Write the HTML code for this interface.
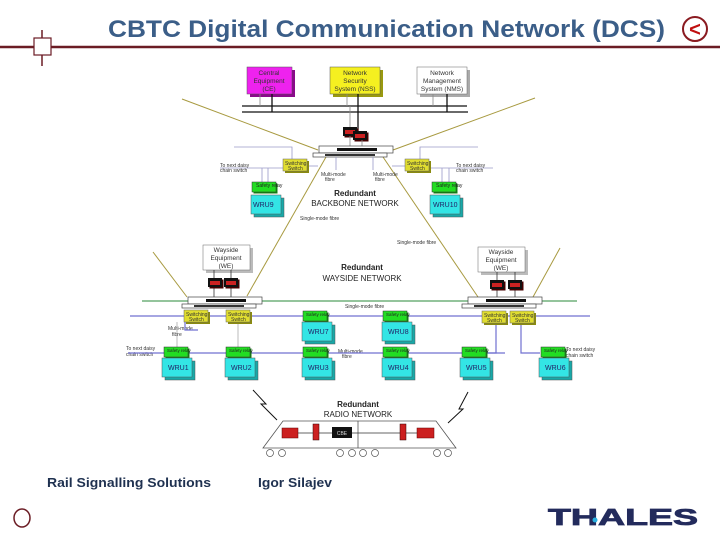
<!DOCTYPE html>
<html><head><meta charset="utf-8"><style>
html,body{margin:0;padding:0;background:#fff;}
svg{display:block;font-family:"Liberation Sans",Arial,sans-serif;}
</style></head><body>
<svg width="720" height="540" viewBox="0 0 720 540" xmlns="http://www.w3.org/2000/svg">
<defs>
<g id="wru"><rect x="3" y="3" width="30" height="19" fill="#18a8a8" stroke="#555" stroke-width="0.5"/><rect x="0" y="0" width="30" height="19" fill="#33e5e5" stroke="#555" stroke-width="0.5"/></g>
<g id="rel"><rect x="1.5" y="1.5" width="24" height="10" fill="#118811"/><rect x="0" y="0" width="24" height="10" fill="#22dd22" stroke="#333" stroke-width="0.5"/></g>
<g id="sw"><rect x="2" y="2" width="24" height="12" fill="#8a8a10"/><rect x="0" y="0" width="24" height="12" fill="#e0dd30" stroke="#666" stroke-width="0.5"/></g>
<g id="red"><rect x="1.5" y="1.5" width="14" height="9" fill="#400"/><rect x="0" y="0" width="14" height="9" fill="#111"/><rect x="2" y="3" width="10" height="4" fill="#cc2222"/></g>
<g id="core"><rect x="6" y="0" width="74" height="7" fill="#fff" stroke="#444" stroke-width="0.7"/><rect x="24" y="2" width="40" height="3" fill="#111"/><rect x="0" y="7" width="74" height="4" fill="#fff" stroke="#444" stroke-width="0.7"/><rect x="12" y="8" width="50" height="2" fill="#333"/></g>
</defs>

<!-- header -->
<text x="108" y="37" font-size="24" font-weight="bold" fill="#3b5e88" textLength="557" lengthAdjust="spacingAndGlyphs">CBTC Digital Communication Network  (DCS)</text>
<line x1="0" y1="47" x2="720" y2="47" stroke="#6b1c24" stroke-width="2.5"/>
<line x1="42" y1="30" x2="42" y2="66" stroke="#6b1c24" stroke-width="1.5"/>
<rect x="34" y="38" width="17" height="17" fill="#fff" stroke="#6b1c24" stroke-width="1.2"/>
<circle cx="695" cy="29" r="12" fill="#fff" stroke="#8a1a20" stroke-width="2"/>
<text x="695" y="36" text-anchor="middle" font-size="20" font-weight="bold" fill="#c01010">&lt;</text>

<!-- diagonals -->
<g stroke="#a89a40" stroke-width="1" fill="none">
<line x1="182" y1="99" x2="318" y2="150"/>
<line x1="535" y1="98" x2="393" y2="150"/>
<line x1="326" y1="157" x2="247" y2="296"/>
<line x1="383" y1="157" x2="478" y2="297"/>
<line x1="153" y1="252" x2="187" y2="297"/>
<line x1="560" y1="248" x2="533" y2="297"/>
</g>

<!-- top boxes -->
<rect x="250" y="70" width="45" height="27" fill="#8a0a8a"/>
<rect x="247" y="67" width="45" height="27" fill="#ee22ee" stroke="#555" stroke-width="0.5"/>
<text x="269" y="75" text-anchor="middle" font-size="6.5" fill="#333">Central</text>
<text x="269" y="83" text-anchor="middle" font-size="6.5" fill="#333">Equipment</text>
<text x="269" y="91" text-anchor="middle" font-size="6.5" fill="#333">(CE)</text>
<rect x="333" y="70" width="50" height="27" fill="#999910"/>
<rect x="330" y="67" width="50" height="27" fill="#f5f020" stroke="#555" stroke-width="0.5"/>
<text x="355" y="75" text-anchor="middle" font-size="6.5" fill="#333">Network</text>
<text x="355" y="83" text-anchor="middle" font-size="6.5" fill="#333">Security</text>
<text x="355" y="91" text-anchor="middle" font-size="6.5" fill="#333">System (NSS)</text>
<rect x="420" y="70" width="50" height="27" fill="#aaa"/>
<rect x="417" y="67" width="50" height="27" fill="#fff" stroke="#666" stroke-width="0.5"/>
<text x="442" y="75" text-anchor="middle" font-size="6.5" fill="#333">Network</text>
<text x="442" y="83" text-anchor="middle" font-size="6.5" fill="#333">Management</text>
<text x="442" y="91" text-anchor="middle" font-size="6.5" fill="#333">System (NMS)</text>

<line x1="242" y1="106" x2="467" y2="106" stroke="#111" stroke-width="1.3"/>
<line x1="242" y1="112" x2="468" y2="112" stroke="#111" stroke-width="1.3"/>
<g stroke="#888" stroke-width="0.8"><line x1="260" y1="94" x2="260" y2="106"/><line x1="347" y1="94" x2="347" y2="106"/><line x1="433" y1="94" x2="433" y2="106"/><line x1="350" y1="106" x2="350" y2="128"/></g>
<g stroke="#111" stroke-width="1.3"><line x1="272" y1="94" x2="272" y2="112"/><line x1="358" y1="94" x2="358" y2="132"/><line x1="447" y1="94" x2="447" y2="112"/></g>
<use href="#red" x="343" y="127"/><use href="#red" x="353" y="131"/>
<line x1="350" y1="136" x2="350" y2="146" stroke="#888" stroke-width="0.8"/>
<line x1="362" y1="140" x2="362" y2="146" stroke="#888" stroke-width="0.8"/>
<use href="#core" x="313" y="146"/>

<!-- backbone -->
<g stroke="#9a9ac8" stroke-width="0.8" fill="none">
<polyline points="234,147 292,147 292,159"/>
<line x1="220" y1="168" x2="283" y2="168"/>
<line x1="307" y1="166" x2="318" y2="166"/>
<line x1="262" y1="168" x2="262" y2="182"/><line x1="268" y1="168" x2="268" y2="182"/>
<polyline points="478,147 420,147 420,159"/>
<line x1="430" y1="168" x2="493" y2="168"/>
<line x1="392" y1="166" x2="405" y2="166"/>
<line x1="442" y1="168" x2="442" y2="182"/><line x1="449" y1="168" x2="449" y2="182"/>
<line x1="336" y1="157" x2="336" y2="170"/><line x1="373" y1="157" x2="373" y2="170"/>
</g>
<use href="#sw" x="283" y="159"/><use href="#sw" x="405" y="159"/>
<use href="#rel" x="252" y="182"/><use href="#wru" x="251" y="195"/>
<use href="#rel" x="432" y="182"/><use href="#wru" x="430" y="195"/>
<g font-size="5" fill="#333">
<text x="285" y="165">Switching</text><text x="288" y="170">Switch</text>
<text x="407" y="165">Switching</text><text x="410" y="170">Switch</text>
<text x="220" y="167">To next daisy</text><text x="220" y="172">chain switch</text>
<text x="456" y="167">To next daisy</text><text x="456" y="172">chain switch</text>
<text x="321" y="176">Multi-mode</text><text x="325" y="181">fibre</text>
<text x="373" y="176">Multi-mode</text><text x="375" y="181">fibre</text>
<text x="300" y="220">Single-mode fibre</text>
<text x="397" y="244">Single-mode fibre</text>
<text x="345" y="308">Single-mode fibre</text>
<text x="168" y="330">Multi-mode</text><text x="172" y="336">fibre</text>
<text x="338" y="353">Multi-mode</text><text x="342" y="358">fibre</text>
<text x="126" y="350">To next daisy</text><text x="126" y="356">chain switch</text>
<text x="566" y="351">To next daisy</text><text x="566" y="357">chain switch</text>
</g>
<g font-size="5" fill="#222">
<text x="256" y="187">Safety relay</text><text x="436" y="187">Safety relay</text>
</g>
<text x="253" y="207" font-size="7" fill="#226">WRU9</text>
<text x="433" y="207" font-size="7" fill="#226">WRU10</text>
<text x="355" y="196" text-anchor="middle" font-size="8" font-weight="bold" fill="#222">Redundant</text>
<text x="355" y="206" text-anchor="middle" font-size="8" fill="#222">BACKBONE NETWORK</text>
<text x="362" y="270" text-anchor="middle" font-size="8" font-weight="bold" fill="#222">Redundant</text>
<text x="362" y="281" text-anchor="middle" font-size="8" fill="#222">WAYSIDE NETWORK</text>

<!-- wayside equipment -->
<rect x="206" y="248" width="47" height="25" fill="#bbb"/>
<rect x="203" y="245" width="47" height="25" fill="#fff" stroke="#666" stroke-width="0.5"/>
<text x="226" y="252" text-anchor="middle" font-size="6.5" fill="#333">Wayside</text>
<text x="226" y="260" text-anchor="middle" font-size="6.5" fill="#333">Equipment</text>
<text x="226" y="268" text-anchor="middle" font-size="6.5" fill="#333">(WE)</text>
<rect x="481" y="250" width="47" height="25" fill="#bbb"/>
<rect x="478" y="247" width="47" height="25" fill="#fff" stroke="#666" stroke-width="0.5"/>
<text x="501" y="254" text-anchor="middle" font-size="6.5" fill="#333">Wayside</text>
<text x="501" y="262" text-anchor="middle" font-size="6.5" fill="#333">Equipment</text>
<text x="501" y="270" text-anchor="middle" font-size="6.5" fill="#333">(WE)</text>
<g stroke="#333" stroke-width="0.8"><line x1="214" y1="270" x2="214" y2="297"/><line x1="231" y1="270" x2="231" y2="297"/><line x1="497" y1="272" x2="497" y2="297"/><line x1="515" y1="272" x2="515" y2="297"/></g>
<use href="#red" x="208" y="278"/><use href="#red" x="224" y="278"/>
<use href="#red" x="490" y="280"/><use href="#red" x="508" y="280"/>

<line x1="142" y1="301" x2="577" y2="301" stroke="#2a8a3a" stroke-width="1"/>
<use href="#core" x="182" y="297"/><use href="#core" x="462" y="297"/>

<!-- blue lines -->
<g stroke="#7070d0" stroke-width="1.2" fill="none">
<line x1="130" y1="316" x2="590" y2="316"/>
<line x1="128" y1="353" x2="164" y2="353"/>
<line x1="188" y1="353" x2="505" y2="353"/>
<polyline points="185,322 185,330 198,330"/>
<polyline points="496,323 496,353 485,353"/>
<polyline points="521,323 521,353 540,353"/>
</g>
<g stroke="#aaa" stroke-width="0.8"><line x1="177" y1="322" x2="177" y2="347"/><line x1="238" y1="323" x2="238" y2="347"/></g>
<use href="#sw" x="184" y="310"/><use href="#sw" x="226" y="310"/>
<use href="#sw" x="482" y="311"/><use href="#sw" x="510" y="311"/>
<g font-size="5" fill="#333">
<text x="186" y="316">Switching</text><text x="189" y="321">Switch</text>
<text x="228" y="316">Switching</text><text x="231" y="321">Switch</text>
<text x="484" y="317">Switching</text><text x="487" y="322">Switch</text>
<text x="512" y="317">Switching</text><text x="515" y="322">Switch</text>
</g>
<use href="#rel" x="303" y="311"/><use href="#wru" x="302" y="322"/>
<use href="#rel" x="383" y="311"/><use href="#wru" x="382" y="322"/>
<use href="#rel" x="164" y="347"/><use href="#wru" x="162" y="358"/>
<use href="#rel" x="226" y="347"/><use href="#wru" x="225" y="358"/>
<use href="#rel" x="303" y="347"/><use href="#wru" x="302" y="358"/>
<use href="#rel" x="383" y="347"/><use href="#wru" x="382" y="358"/>
<use href="#rel" x="462" y="347"/><use href="#wru" x="460" y="358"/>
<use href="#rel" x="541" y="347"/><use href="#wru" x="539" y="358"/>
<g font-size="4.5" fill="#222">
<text x="306" y="316">Safety relay</text><text x="386" y="316">Safety relay</text>
<text x="167" y="352">Safety relay</text><text x="229" y="352">Safety relay</text><text x="306" y="352">Safety relay</text><text x="386" y="352">Safety relay</text><text x="465" y="352">Safety relay</text><text x="544" y="352">Safety relay</text>
</g>
<g font-size="7" fill="#226">
<text x="308" y="334">WRU7</text><text x="388" y="334">WRU8</text>
<text x="168" y="370">WRU1</text><text x="231" y="370">WRU2</text><text x="308" y="370">WRU3</text><text x="388" y="370">WRU4</text><text x="466" y="370">WRU5</text><text x="545" y="370">WRU6</text>
</g>

<!-- radio -->
<g stroke="#111" stroke-width="1" fill="none">
<polyline points="253,390 266,404 261,404 277,420"/>
<polyline points="468,392 459,409 463,409 448,423"/>
</g>
<text x="358" y="407" text-anchor="middle" font-size="8" font-weight="bold" fill="#222">Redundant</text>
<text x="358" y="417" text-anchor="middle" font-size="8" fill="#222">RADIO NETWORK</text>
<polygon points="283,421 436,421 456,448 263,448" fill="#fff" stroke="#555" stroke-width="0.8"/>
<line x1="358" y1="421" x2="358" y2="448" stroke="#555" stroke-width="0.8"/>
<line x1="298" y1="433" x2="417" y2="433" stroke="#333" stroke-width="0.8"/>
<rect x="282" y="428" width="16" height="10" fill="#cc2020" stroke="#600" stroke-width="0.5"/>
<rect x="313" y="424" width="6" height="16" fill="#cc2020" stroke="#300" stroke-width="0.5"/>
<rect x="332" y="427" width="20" height="11" fill="#111"/>
<text x="342" y="435" text-anchor="middle" font-size="5" fill="#ddd">CBE</text>
<rect x="400" y="424" width="6" height="16" fill="#cc2020" stroke="#300" stroke-width="0.5"/>
<rect x="417" y="428" width="17" height="10" fill="#cc2020" stroke="#600" stroke-width="0.5"/>
<g fill="#fff" stroke="#555" stroke-width="0.7">
<circle cx="270" cy="453" r="3.5"/><circle cx="282" cy="453" r="3.5"/><circle cx="340" cy="453" r="3.5"/><circle cx="352" cy="453" r="3.5"/><circle cx="363" cy="453" r="3.5"/><circle cx="375" cy="453" r="3.5"/><circle cx="437" cy="453" r="3.5"/><circle cx="448" cy="453" r="3.5"/>
</g>

<!-- footer -->
<text x="47" y="487" font-size="13" font-weight="bold" fill="#1f3150" textLength="164" lengthAdjust="spacingAndGlyphs">Rail Signalling Solutions</text>
<text x="258" y="487" font-size="13" font-weight="bold" fill="#1f3150" textLength="74" lengthAdjust="spacingAndGlyphs">Igor Silajev</text>
<ellipse cx="22" cy="518" rx="8" ry="9" fill="#fff" stroke="#6b1c24" stroke-width="1.5"/>
<text x="548" y="525" font-size="23" font-weight="bold" fill="#232b5c" stroke="#232b5c" stroke-width="0.8" textLength="150" lengthAdjust="spacingAndGlyphs">THALES</text>
<circle cx="595" cy="520" r="2.5" fill="#2ab0e0"/>
</svg>
</body></html>
